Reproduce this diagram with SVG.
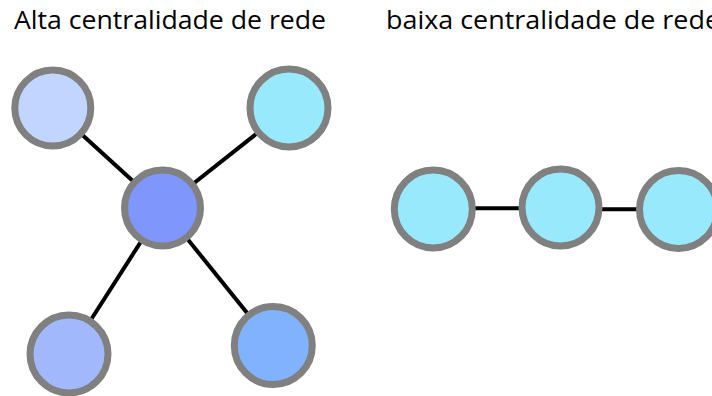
<svg xmlns="http://www.w3.org/2000/svg" width="712" height="396" viewBox="0 0 712 396">
  <style>
    .title { font-family: "Open Sans", "Liberation Sans", sans-serif; font-size: 25.5px; fill: #000; }
    .node { stroke: #808080; stroke-width: 7; }
    .edge { stroke: #000; stroke-width: 4; fill: none; }
  </style>
  <rect width="712" height="396" fill="#fff"/>

  <text class="title" x="14" y="29" textLength="312" lengthAdjust="spacingAndGlyphs">Alta centralidade de rede</text>
  <text class="title" x="386" y="29" textLength="334" lengthAdjust="spacingAndGlyphs">baixa centralidade de rede</text>

  <g id="connectors">
    <line class="edge" x1="162.5" y1="208" x2="52.8" y2="108"/>
    <line class="edge" x1="162.5" y1="208" x2="289" y2="108"/>
    <line class="edge" x1="162.5" y1="208" x2="69" y2="354"/>
    <line class="edge" x1="162.5" y1="208" x2="273.3" y2="345.5"/>
    <line class="edge" x1="433.3" y1="208.3" x2="560.5" y2="208.3"/>
    <line class="edge" x1="560.5" y1="209.3" x2="678.5" y2="209.3"/>
  </g>

  <!-- star: high centrality -->
  <g id="hub"><circle class="node" cx="162.5" cy="208" r="38" fill="#7f96fd"/></g>
  <g id="leaf-top-left"><circle class="node" cx="52.8" cy="108" r="38" fill="#c2d5ff"/></g>
  <g id="leaf-top-right"><circle class="node" cx="289" cy="108" r="39" fill="#99e9fd"/></g>
  <g id="leaf-bottom-left"><circle class="node" cx="69" cy="354" r="39" fill="#a2b8fc"/></g>
  <g id="leaf-bottom-right"><circle class="node" cx="273.3" cy="345.5" r="39" fill="#80b2fd"/></g>

  <!-- chain: low centrality -->
  <g id="chain-1"><circle class="node" cx="433.3" cy="209" r="39" fill="#99e9fd"/></g>
  <g id="chain-2"><circle class="node" cx="560.5" cy="207.5" r="38.5" fill="#99e9fd"/></g>
  <g id="chain-3"><circle class="node" cx="678.5" cy="209.5" r="39" fill="#99e9fd"/></g>
</svg>
